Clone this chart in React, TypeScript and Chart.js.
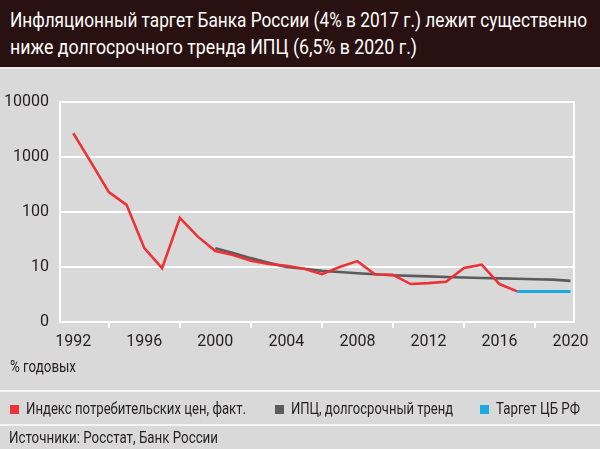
import React, { useEffect, useLayoutEffect, useRef } from 'react';
import { Chart, registerables } from 'chart.js';

Chart.register(...registerables);

const TITLE_LINES = [
  'Инфляционный таргет Банка России (4% в 2017 г.) лежит существенно',
  'ниже долгосрочного тренда ИПЦ (6,5% в 2020 г.)',
];
const UNIT_LABEL = '% годовых';
const SOURCE = 'Источники: Росстат, Банк России';
const LEGEND_LABELS = ['Индекс потребительских цен, факт.', 'ИПЦ, долгосрочный тренд', 'Таргет ЦБ РФ'];

const CPI_YEARS = [1992, 1993, 1994, 1995, 1996, 1997, 1998, 1999, 2000, 2001, 2002, 2003, 2004, 2005, 2006, 2007, 2008, 2009, 2010, 2011, 2012, 2013, 2014, 2015, 2016, 2017];
const CPI_VALUES = [2700, 800, 230, 135, 22, 9.5, 78, 36, 19.5, 16.5, 13, 11.3, 10.5, 9.3, 7.4, 10, 12.8, 7.3, 7.2, 4.9, 5.1, 5.4, 9.6, 11, 4.9, 3.6];

const TREND_YEARS = [2000, 2001, 2002, 2003, 2004, 2005, 2006, 2007, 2008, 2009, 2010, 2011, 2012, 2013, 2014, 2015, 2016, 2017, 2018, 2019, 2020];
const TREND_VALUES = [22, 18, 14.5, 12, 10, 9.3, 8.5, 8.1, 7.7, 7.4, 7.1, 6.9, 6.75, 6.6, 6.45, 6.3, 6.2, 6.1, 6.0, 5.9, 5.6];

const TARGET_YEARS = [2017, 2018, 2019, 2020];
const TARGET_VALUES = [3.6, 3.6, 3.6, 3.6];

const X_TICKS = [1992, 1994, 1996, 1998, 2000, 2002, 2004, 2006, 2008, 2010, 2012, 2014, 2016, 2018, 2020];
const X_LABELED = [1992, 1996, 2000, 2004, 2008, 2012, 2016, 2020];
const Y_TICKS = [1, 10, 100, 1000, 10000];
const Y_TICK_LABELS = ['0', '10', '100', '1000', '10000'];

const COLORS = ['#ec3237', '#5b5b5b', '#1ba9e1'];
const FONT = "Roboto,'Liberation Sans',sans-serif";

const pts = (xs: number[], ys: number[]) => xs.map((x, i) => ({ x, y: ys[i] }));

function FitText({ text, width, style }: { text: string; width: number; style: React.CSSProperties }) {
  const r = useRef<HTMLDivElement | null>(null);
  useLayoutEffect(() => {
    const el = r.current;
    if (!el) return;
    el.style.transform = 'none';
    const w = el.getBoundingClientRect().width;
    if (w > 0) el.style.transform = `scaleX(${width / w})`;
  }, [text, width]);
  return (
    <div ref={r} style={{ position: 'absolute', whiteSpace: 'nowrap', transformOrigin: 'left center', fontFamily: FONT, ...style }}>
      {text}
    </div>
  );
}

export default function App() {
  const ref = useRef<HTMLCanvasElement | null>(null);

  useEffect(() => {
    if (!ref.current) return;
    const chart = new Chart(ref.current, {
      type: 'line',
      data: {
        datasets: [
          { label: LEGEND_LABELS[0], data: pts(CPI_YEARS, CPI_VALUES), borderColor: COLORS[0], backgroundColor: COLORS[0], borderWidth: 2.6, pointRadius: 0, tension: 0, order: 1 },
          { label: LEGEND_LABELS[1], data: pts(TREND_YEARS, TREND_VALUES), borderColor: COLORS[1], backgroundColor: COLORS[1], borderWidth: 2.6, pointRadius: 0, tension: 0, order: 2 },
          { label: LEGEND_LABELS[2], data: pts(TARGET_YEARS, TARGET_VALUES), borderColor: COLORS[2], backgroundColor: COLORS[2], borderWidth: 3, pointRadius: 0, tension: 0, order: 3 },
        ],
      },
      options: {
        animation: false,
        responsive: false,
        layout: { padding: { left: 0, right: 0, top: 102, bottom: 0 } },
        plugins: { legend: { display: false }, tooltip: { enabled: false }, title: { display: false } },
        scales: {
          x: {
            type: 'linear',
            min: 1991.25,
            max: 2020.2,
            afterBuildTicks: (s: any) => { s.ticks = X_TICKS.map((v) => ({ value: v })); },
            afterFit: (s: any) => { s.height = 127; },
            ticks: {
              autoSkip: false,
              maxRotation: 0,
              padding: 4,
              color: '#231f20',
              font: { family: FONT, size: 16 },
              callback: (v: any) => (X_LABELED.includes(Number(v)) ? String(v) : ''),
            },
            grid: {
              display: true,
              drawOnChartArea: false,
              drawTicks: true,
              tickLength: 6,
              lineWidth: 2,
              tickColor: (ctx: any) => (ctx.tick && X_LABELED.includes(ctx.tick.value) ? 'rgba(0,0,0,0)' : '#ffffff'),
              color: '#ffffff',
            },
            border: { display: true, color: '#ffffff', width: 2 },
          },
          y: {
            type: 'logarithmic',
            min: 1,
            max: 10000,
            afterBuildTicks: (s: any) => { s.ticks = Y_TICKS.map((v) => ({ value: v })); },
            afterFit: (s: any) => { s.width = 60; },
            ticks: {
              padding: 11,
              color: '#231f20',
              font: { family: FONT, size: 16 },
              callback: (v: any) => { const i = Y_TICKS.indexOf(Number(v)); return i >= 0 ? Y_TICK_LABELS[i] : ''; },
            },
            grid: { color: '#ffffff', lineWidth: 2, drawTicks: false },
            border: { display: true, color: '#ffffff', width: 2 },
          },
          yR: {
            type: 'linear',
            position: 'right',
            display: true,
            afterFit: (s: any) => { s.width = 26; },
            ticks: { display: false },
            grid: { display: false, drawTicks: false },
            border: { display: true, color: '#ffffff', width: 2 },
          },
        },
      },
    } as any);
    return () => chart.destroy();
  }, []);

  const dark = '#231f20';
  const legendX = [10, 275, 480];
  const legendW = [220, 162, 84];

  return (
    <div style={{ position: 'absolute', left: 0, top: 0, width: 600, height: 449, background: '#d9d9d9', overflow: 'hidden' }}>
      <div style={{ position: 'absolute', left: 0, top: 0, width: 600, height: 67, background: '#2a1111' }}>
        <FitText text={TITLE_LINES[0]} width={577} style={{ left: 10, top: 7, fontSize: 21, lineHeight: '26px', color: '#ffffff' }} />
        <FitText text={TITLE_LINES[1]} width={407} style={{ left: 10, top: 34, fontSize: 21, lineHeight: '26px', color: '#ffffff' }} />
      </div>
      <div style={{ position: 'absolute', left: 0, top: 67, width: 600, height: 2, background: '#ececec' }} />
      <canvas ref={ref} width={600} height={449} style={{ position: 'absolute', left: 0, top: 0, width: 600, height: 449 }} />
      <FitText text={UNIT_LABEL} width={66} style={{ left: 10, top: 357, fontSize: 16, lineHeight: '20px', color: dark }} />
      <div style={{ position: 'absolute', left: 0, top: 390, width: 600, height: 2, background: '#f4f4f4' }} />
      {LEGEND_LABELS.map((l, i) => (
        <React.Fragment key={i}>
          <div style={{ position: 'absolute', left: legendX[i], top: 405, width: 9, height: 9, background: COLORS[i] }} />
          <FitText text={l} width={legendW[i]} style={{ left: legendX[i] + 16, top: 399, fontSize: 16, lineHeight: '20px', color: dark }} />
        </React.Fragment>
      ))}
      <div style={{ position: 'absolute', left: 0, top: 424, width: 600, height: 2, background: '#f4f4f4' }} />
      <FitText text={SOURCE} width={209} style={{ left: 9, top: 428, fontSize: 16, lineHeight: '20px', color: dark }} />
    </div>
  );
}
